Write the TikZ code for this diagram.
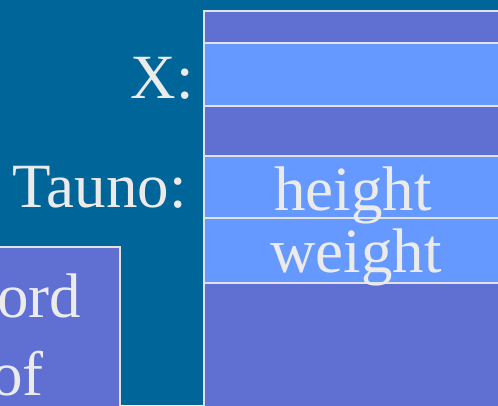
\documentclass[tikz,border=0pt]{standalone}
\usepackage{fontspec}
\setmainfont{Liberation Serif}
\usepackage{xcolor}
\usepackage{tikz}
\usetikzlibrary{positioning}
\definecolor{recBack}{HTML}{006699}
\definecolor{recDark}{HTML}{5F6FD2}
\definecolor{recLight}{HTML}{6699FF}
\definecolor{recLine}{HTML}{E2E2E2}
\definecolor{recInk}{HTML}{EBEBEB}
\tikzset{
  rec diagram/.style={x=1pt, y=-1pt, text=recInk,
    font=\fontsize{63}{70}\selectfont},
  rec cell/.style={draw=recLine, line width=2pt, inner sep=0pt,
    anchor=north west, minimum width=300pt},
  rec dark/.style={rec cell, fill=recDark},
  rec light/.style={rec cell, fill=recLight},
  rec text/.style={inner sep=0pt, anchor=base},
  rec label/.style={inner sep=0pt, anchor=base east}
}
\begin{document}
\begin{tikzpicture}[rec diagram]
\useasboundingbox (0,0) rectangle (498,405);
\clip (0,0) rectangle (498,405);
\fill[recBack] (0,0) rectangle (498,405);
% memory column
\node[rec dark,minimum height=32pt] (top) at (203,10) {};
\node[rec light,minimum height=63pt] (xcell) at (203,42) {};
\node[rec dark,minimum height=50pt] (gap) at (203,105) {};
\node[rec light,minimum height=62pt] (hcell) at (203,155) {};
\node[rec light,minimum height=65pt] (wcell) at (203,217) {};
\node[rec dark,minimum height=140pt] (rest) at (203,282) {};
\node[rec text] (height) at (353,210) {height};
\node[rec text] (weight) at (356,272) {weight};
% names
\node[rec label] (xname) at (194,98) {X:};
\node[rec label] (tauno) at (187,207) {Tauno:};
% record box
\node[rec cell,fill=recDark,minimum width=130pt,minimum height=180pt] (record) at (-11,246) {};
\node[inner sep=0pt,anchor=base west] (ord) at (-3,317) {ord};
\node[inner sep=0pt,anchor=base west] (of) at (-9,395) {of};
\end{tikzpicture}
\end{document}
